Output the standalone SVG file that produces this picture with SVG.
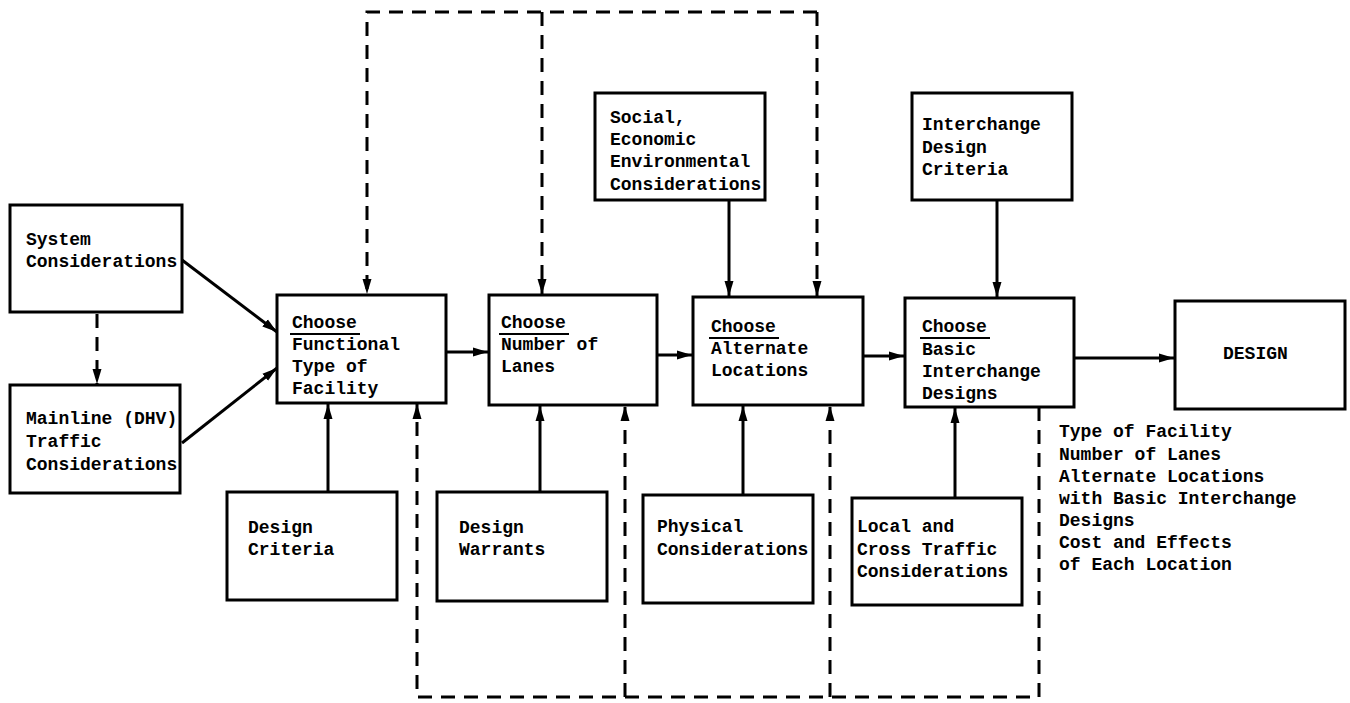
<svg xmlns="http://www.w3.org/2000/svg" width="1350" height="703" viewBox="0 0 1350 703">
  <style>
    .box { fill: #fff; stroke: #000; stroke-width: 3; }
    .t { font-family: "Liberation Mono", "DejaVu Sans Mono", monospace; font-weight: bold; font-size: 18px; fill: #000; }
    .ul { stroke: #000; stroke-width: 2; }
    .solid { fill: none; stroke: #000; stroke-width: 3; }
    .dash { fill: none; stroke: #000; stroke-width: 3; stroke-dasharray: 14 9; }
  </style>
  <defs>
    <marker id="arrow" markerUnits="userSpaceOnUse" markerWidth="16" markerHeight="10" refX="15" refY="5" orient="auto">
      <path d="M0,0.5 L15,5 L0,9.5 Z" fill="#000"/>
    </marker>
  </defs>
  <rect width="1350" height="703" fill="#fff"/>

  <!-- connectors -->
  <g id="connectors">
    <line class="solid" x1="182" y1="260" x2="277" y2="332" marker-end="url(#arrow)"/>
    <line class="solid" x1="182" y1="443" x2="277" y2="368" marker-end="url(#arrow)"/>
    <line class="dash" x1="97" y1="314" x2="97" y2="384" marker-end="url(#arrow)"/>
    <line class="solid" x1="446" y1="352" x2="488" y2="352" marker-end="url(#arrow)"/>
    <line class="solid" x1="657" y1="355" x2="692" y2="355" marker-end="url(#arrow)"/>
    <line class="solid" x1="863" y1="356" x2="904" y2="356" marker-end="url(#arrow)"/>
    <line class="solid" x1="1073" y1="358" x2="1174" y2="358" marker-end="url(#arrow)"/>
    <line class="solid" x1="729" y1="200" x2="729" y2="296" marker-end="url(#arrow)"/>
    <line class="solid" x1="997" y1="200" x2="997" y2="297" marker-end="url(#arrow)"/>
    <line class="solid" x1="328" y1="492" x2="328" y2="404" marker-end="url(#arrow)"/>
    <line class="solid" x1="540" y1="492" x2="540" y2="406" marker-end="url(#arrow)"/>
    <line class="solid" x1="743" y1="495" x2="743" y2="406" marker-end="url(#arrow)"/>
    <line class="solid" x1="955" y1="498" x2="955" y2="408" marker-end="url(#arrow)"/>
    <!-- feedback loops across the top -->
    <path class="dash" d="M817,12 H367 V294" marker-end="url(#arrow)"/>
    <path class="dash" d="M817,12 V296" marker-end="url(#arrow)"/>
    <path class="dash" d="M542,12 V294" marker-end="url(#arrow)"/>
    <!-- feedback loops along the bottom -->
    <path class="dash" d="M1039,407 V697 H417 V404" marker-end="url(#arrow)"/>
    <path class="dash" d="M625,697 V406" marker-end="url(#arrow)"/>
    <path class="dash" d="M830,697 V406" marker-end="url(#arrow)"/>
  </g>

  <g id="system">
    <rect class="box" x="10" y="205" width="172" height="107"/>
    <text class="t" x="26" y="245">System</text>
    <text class="t" x="26" y="267">Considerations</text>
  </g>
  <g id="mainline">
    <rect class="box" x="10" y="385" width="170" height="108"/>
    <text class="t" x="26" y="424">Mainline (DHV)</text>
    <text class="t" x="26" y="447">Traffic</text>
    <text class="t" x="26" y="470">Considerations</text>
  </g>
  <g id="functional">
    <rect class="box" x="277" y="295" width="169" height="108"/>
    <text class="t" x="292" y="328">Choose</text>
    <line class="ul" x1="290" y1="334" x2="360" y2="334"/>
    <text class="t" x="292" y="350">Functional</text>
    <text class="t" x="292" y="372">Type of</text>
    <text class="t" x="292" y="394">Facility</text>
  </g>
  <g id="lanes">
    <rect class="box" x="489" y="295" width="168" height="110"/>
    <text class="t" x="501" y="328">Choose</text>
    <line class="ul" x1="499" y1="334" x2="569" y2="334"/>
    <text class="t" x="501" y="350">Number of</text>
    <text class="t" x="501" y="372">Lanes</text>
  </g>
  <g id="social">
    <rect class="box" x="595" y="93" width="170" height="107"/>
    <text class="t" x="610" y="123">Social,</text>
    <text class="t" x="610" y="145">Economic</text>
    <text class="t" x="610" y="167">Environmental</text>
    <text class="t" x="610" y="190">Considerations</text>
  </g>
  <g id="alternate">
    <rect class="box" x="693" y="297" width="170" height="108"/>
    <text class="t" x="711" y="332">Choose</text>
    <line class="ul" x1="709" y1="338" x2="779" y2="338"/>
    <text class="t" x="711" y="354">Alternate</text>
    <text class="t" x="711" y="376">Locations</text>
  </g>
  <g id="interchange-criteria">
    <rect class="box" x="912" y="93" width="160" height="107"/>
    <text class="t" x="922" y="130">Interchange</text>
    <text class="t" x="922" y="153">Design</text>
    <text class="t" x="922" y="175">Criteria</text>
  </g>
  <g id="basic">
    <rect class="box" x="905" y="298" width="169" height="109"/>
    <text class="t" x="922" y="332">Choose</text>
    <line class="ul" x1="920" y1="338" x2="990" y2="338"/>
    <text class="t" x="922" y="355">Basic</text>
    <text class="t" x="922" y="377">Interchange</text>
    <text class="t" x="922" y="399">Designs</text>
  </g>
  <g id="design">
    <rect class="box" x="1175" y="301" width="170" height="108"/>
    <text class="t" x="1223" y="359">DESIGN</text>
  </g>
  <g id="design-criteria">
    <rect class="box" x="227" y="492" width="170" height="108"/>
    <text class="t" x="248" y="533">Design</text>
    <text class="t" x="248" y="555">Criteria</text>
  </g>
  <g id="design-warrants">
    <rect class="box" x="437" y="492" width="170" height="109"/>
    <text class="t" x="459" y="533">Design</text>
    <text class="t" x="459" y="555">Warrants</text>
  </g>
  <g id="physical">
    <rect class="box" x="643" y="495" width="170" height="108"/>
    <text class="t" x="657" y="532">Physical</text>
    <text class="t" x="657" y="555">Considerations</text>
  </g>
  <g id="local">
    <rect class="box" x="852" y="498" width="170" height="107"/>
    <text class="t" x="857" y="532">Local and</text>
    <text class="t" x="857" y="555">Cross Traffic</text>
    <text class="t" x="857" y="577">Considerations</text>
  </g>
  <g id="outputs">
    <text class="t" x="1059" y="437">Type of Facility</text>
    <text class="t" x="1059" y="460">Number of Lanes</text>
    <text class="t" x="1059" y="482">Alternate Locations</text>
    <text class="t" x="1059" y="504">with Basic Interchange</text>
    <text class="t" x="1059" y="526">Designs</text>
    <text class="t" x="1059" y="548">Cost and Effects</text>
    <text class="t" x="1059" y="570">of Each Location</text>
  </g>
</svg>
